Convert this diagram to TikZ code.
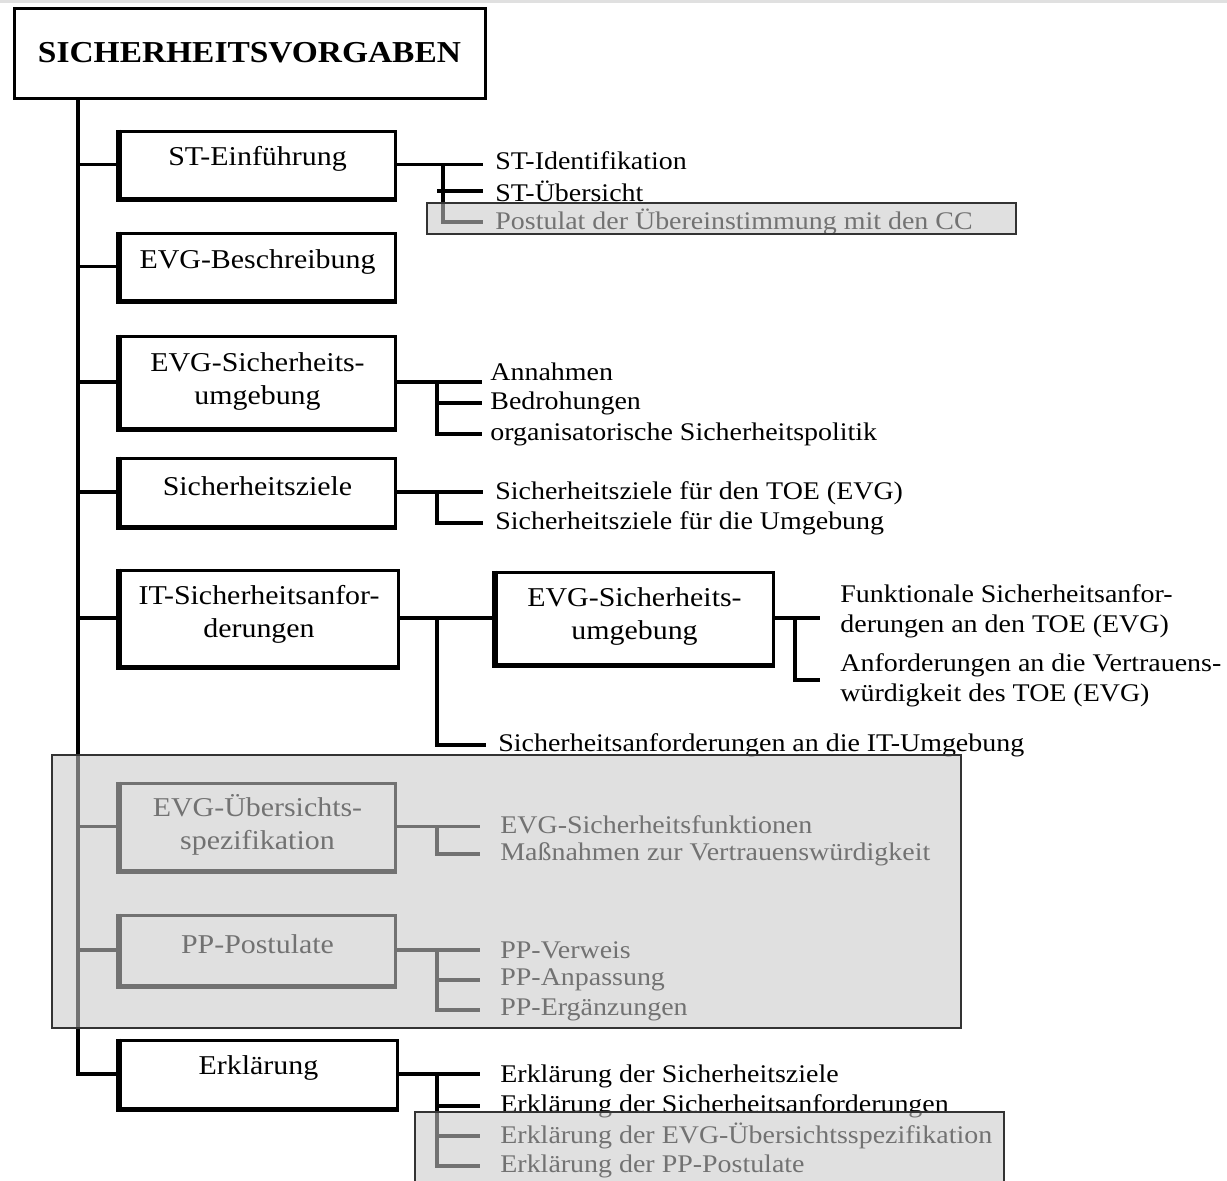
\documentclass[tikz,border=0pt]{standalone}
\usepackage{fontspec}
\setmainfont{Liberation Serif}[FakeStretch=1.1]
\usetikzlibrary{fit,calc}
\newcommand{\itemfont}{\fontsize{12.7}{15}\selectfont}
\newcommand{\boxfont}{\fontsize{13.6}{16.5}\selectfont}
\definecolor{hl}{gray}{0.79}
\newcommand{\drawbox}[7]{%
  \coordinate (#1nw) at (#2,#3);
  \coordinate (#1se) at (#4,#5);
  \node[box,fit=(#1nw)(#1se)] (#1) {};
  \draw[line width=2.6pt] (#1.north west) -- (#1.south west) -- (#1.south east);
  \node[boxtext] (#1t) at ($(#1.center)+(0,#7)$) {#6};
}
\begin{document}
\begin{tikzpicture}[x=0.5pt,y=-0.5pt,
  box/.style={draw,line width=1.5pt,inner sep=0pt},
  boxtext/.style={inner sep=0pt,align=center,font=\boxfont},
  itm/.style={anchor=west,inner sep=0pt,align=left,font=\itemfont},
  conn/.style={line width=1.9pt},
  hlbox/.style={fill=hl,fill opacity=0.57,draw=black!80,line width=0.6pt}]
\useasboundingbox (0,0) rectangle (1227,1180);
\clip (0,0) rectangle (1227,1180);
\fill[black!12] (0,0) rectangle (1227,3);

% title
\coordinate (tnw) at (14,8);
\coordinate (tse) at (485,98);
\node[box,fit=(tnw)(tse)] (title) {};
\node[inner sep=0pt,font=\fontsize{15.2}{18}\selectfont\bfseries] (titlet) at (title.center) {SICHERHEITSVORGABEN};
\coordinate (tr) at (78,0);

% boxes
\drawbox{b1}{120}{131}{395}{198}{ST-Einführung}{-6}
\drawbox{b2}{120}{233}{395}{300}{EVG-Beschreibung}{-5}
\drawbox{b3}{120}{336}{395}{428}{EVG-Sicherheits-\\umgebung}{-1}
\drawbox{b4}{120}{458}{395}{526}{Sicherheitsziele}{-6}
\drawbox{b5}{120}{570}{398}{666}{IT-Sicherheitsanfor-\\derungen}{-4}
\drawbox{b6}{496}{572}{773}{664}{EVG-Sicherheits-\\umgebung}{-2}
\drawbox{b7}{120}{783}{395}{870}{EVG-Übersichts-\\spezifikation}{-2}
\drawbox{b8}{120}{915}{395}{985}{PP-Postulate}{-6}
\drawbox{b9}{120}{1040}{397}{1108}{Erklärung}{-6}

% trunk
\draw[conn] (title.south -| tr) -- (tr |- b9.west) -- (b9.west);
\foreach \b in {b1,b2,b3,b4,b5,b7,b8}{\draw[conn] (tr |- \b.west) -- (\b.west);}

% items
\node[itm] (i11) at (495,161) {ST-Identifikation};
\node[itm] (i12) at (495,191) {ST-Übersicht};
\node[itm] (i13) at (495,222) {Postulat der Übereinstimmung mit den CC};

\node[itm] (i31) at (490,372) {Annahmen};
\node[itm] (i32) at (490,403) {Bedrohungen};
\node[itm] (i33) at (490,434) {organisatorische Sicherheitspolitik};

\node[itm] (i41) at (495,493) {Sicherheitsziele für den TOE (EVG)};
\node[itm] (i42) at (495,523) {Sicherheitsziele für die Umgebung};

\node[itm] (i51) at (498,745) {Sicherheitsanforderungen an die IT-Umgebung};
\node[itm] (i61) at (840,611) {Funktionale Sicherheitsanfor-\\derungen an den TOE (EVG)};
\node[itm] (i62) at (840,680) {Anforderungen an die Vertrauens-\\würdigkeit des TOE (EVG)};

\node[itm] (i71) at (500,825) {EVG-Sicherheitsfunktionen};
\node[itm] (i72) at (500,854) {Maßnahmen zur Vertrauenswürdigkeit};

\node[itm] (i81) at (500,950) {PP-Verweis};
\node[itm] (i82) at (500,980) {PP-Anpassung};
\node[itm] (i83) at (500,1010) {PP-Ergänzungen};

\node[itm] (i91) at (500,1076) {Erklärung der Sicherheitsziele};
\node[itm] (i92) at (500,1106) {Erklärung der Sicherheitsanforderungen};
\node[itm] (i93) at (500,1136) {Erklärung der EVG-Übersichtsspezifikation};
\node[itm] (i94) at (500,1166) {Erklärung der PP-Postulate};

% branch verticals
\coordinate (v1) at (443,0);
\coordinate (v3) at (437,0);
\coordinate (v6) at (795,0);

% group 1
\draw[conn] (b1.east) -- ([xshift=-6pt]b1.east -| i11.west);
\draw[conn] (v1 |- b1.east) |- ([xshift=-6pt]i13.west);
\draw[conn] ([xshift=-3pt]v1 |- i12.west) -- ([xshift=-6pt]i12.west);
% group 3
\draw[conn] (b3.east) -- ([xshift=-4pt]b3.east -| i31.west);
\draw[conn] (v3 |- b3.east) |- ([xshift=-4pt]i33.west);
\draw[conn] (v3 |- i32.west) -- ([xshift=-4pt]i32.west);
% group 4
\draw[conn] (b4.east) -- ([xshift=-6pt]b4.east -| i41.west);
\draw[conn] (v3 |- b4.east) |- ([xshift=-6pt]i42.west);
% group 5/6
\draw[conn] (b5.east) -- (b5.east -| b6.west);
\draw[conn] (v3 |- b5.east) |- ([xshift=-6pt]i51.west);
\draw[conn] (b6.east) -- ([xshift=-10pt]b6.east -| i61.west);
\draw[conn] (v6 |- b6.east) |- ([xshift=-10pt]i62.west);
% group 7
\draw[conn] (b7.east) -- ([xshift=-10pt]b7.east -| i71.west);
\draw[conn] (v3 |- b7.east) |- ([xshift=-10pt]i72.west);
% group 8
\draw[conn] (b8.east) -- ([xshift=-10pt]b8.east -| i81.west);
\draw[conn] (v3 |- b8.east) |- ([xshift=-10pt]i83.west);
\draw[conn] (v3 |- i82.west) -- ([xshift=-10pt]i82.west);
% group 9
\draw[conn] (b9.east) -- ([xshift=-10pt]b9.east -| i91.west);
\draw[conn] (v3 |- b9.east) |- ([xshift=-10pt]i94.west);
\draw[conn] (v3 |- i92.west) -- ([xshift=-10pt]i92.west);
\draw[conn] (v3 |- i93.west) -- ([xshift=-10pt]i93.west);

% highlight overlays
\draw[hlbox] (427,203) rectangle (1016,234);
\draw[hlbox] (52,755) rectangle (961,1028);
\draw[hlbox] (415,1112) rectangle (1004,1195);
\end{tikzpicture}
\end{document}
